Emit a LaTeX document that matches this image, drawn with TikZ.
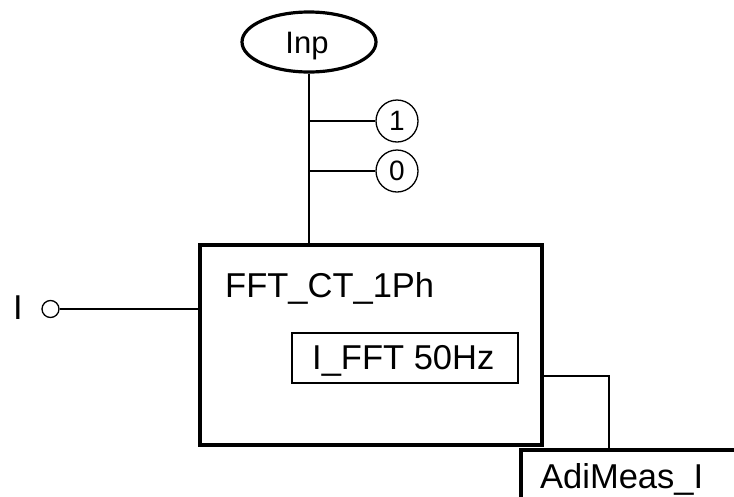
\documentclass[tikz,border=0pt]{standalone}
\usepackage{fontspec}
\setmainfont{Liberation Sans}
\usetikzlibrary{shapes.geometric,calc}
\begin{document}
\begin{tikzpicture}[x=1pt,y=-1pt,
  lbl/.style={font=\fontsize{34.5}{40}\selectfont,inner sep=0pt},
  thickbox/.style={draw,line width=3.5pt,rectangle,inner sep=0pt},
  thinbox/.style={draw,line width=1.3pt,rectangle,inner sep=0pt},
  wire/.style={line width=1.6pt},
  pin/.style={draw,circle,line width=1.3pt,minimum size=42pt,inner sep=0pt,font=\fontsize{28}{32}\selectfont}]
\useasboundingbox (0,0) rectangle (734,496);
\clip (0,0) rectangle (734,496);
% main block
\node[thickbox,minimum width=342pt,minimum height=200pt] (fft) at (371,345) {};
\node[lbl,anchor=base west] (fftlbl) at (225,297) {FFT\_CT\_1Ph};
\node[thinbox,minimum width=226pt,minimum height=50pt] (ifft) at (405,358) {};
\node[lbl,anchor=base west] (ifftlbl) at (312,369) {I\_FFT 50Hz};
% input ellipse
\node[draw,ellipse,line width=3.2pt,minimum width=134pt,minimum height=60pt,inner sep=0pt] (inp) at (309,42) {};
\node[font=\fontsize{31}{35}\selectfont,inner sep=0pt,anchor=base] (inplbl) at (307,53) {Inp};
\coordinate (top) at (inp.south |- fft.north);
\draw[wire] (inp.south) -- (top);
\node[pin] (c1) at (397,121) {1};
\node[pin] (c0) at (397,171) {0};
\draw[wire] (inp.south |- c1.west) -- (c1.west);
\draw[wire] (inp.south |- c0.west) -- (c0.west);
% left input
\node[lbl,anchor=base west] (ilbl) at (13,319) {I};
\node[draw,circle,line width=1.3pt,minimum size=17pt,inner sep=0pt] (ipin) at (50.5,309) {};
\draw[wire] (ipin.east) -- (ipin.east -| fft.west);
% output block
\node[thickbox,anchor=north west,minimum width=240pt,minimum height=80pt] (adi) at (519,448) {};
\node[lbl,anchor=base west] (adilbl) at (540,488) {AdiMeas\_I};
\coordinate (bend) at (609,376);
\draw[line width=1.3pt] (fft.east |- bend) -- (bend) -- (bend |- adi.north);
\end{tikzpicture}
\end{document}
